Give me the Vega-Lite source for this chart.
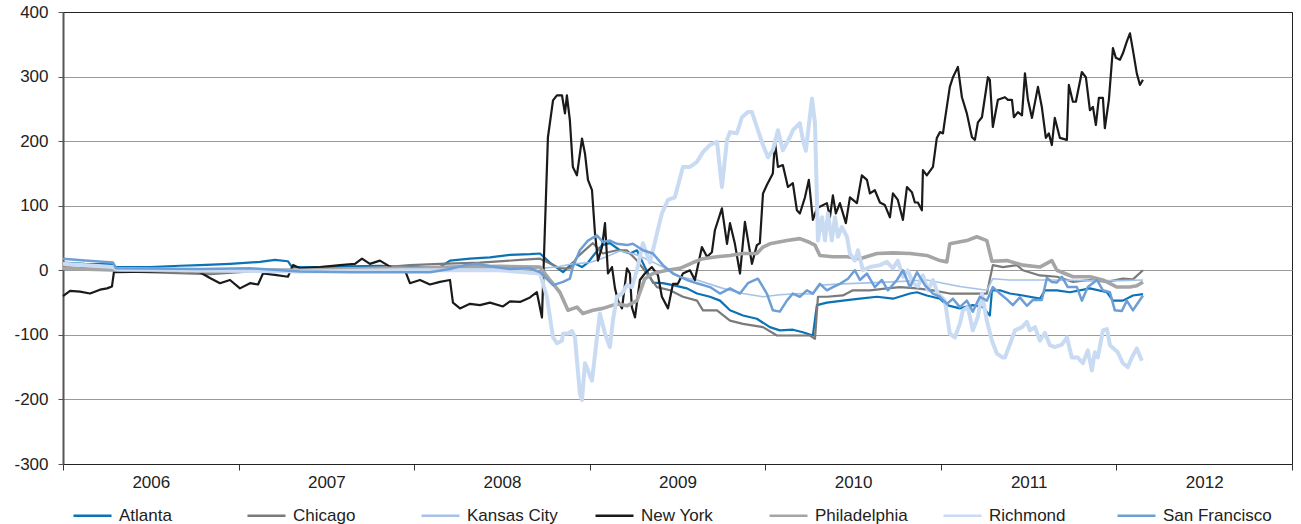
{
"$schema":"https://vega.github.io/schema/vega-lite/v6.json",
"width":1229,"height":452,
"autosize":{"type":"none"},
"padding":{"left":63,"top":12,"right":9,"bottom":60},
"background":"white",
"config":{"font":"Liberation Sans","view":{"stroke":"#222","strokeWidth":1},
"legend":{"orient":"none","legendX":9,"legendY":483,"direction":"horizontal","columns":7,"gridAlign":"all","columnPadding":14,"symbolType":"stroke","symbolSize":1444,"symbolStrokeWidth":2.6,"labelFontSize":17,"labelColor":"#222","labelOffset":6,"title":null,"padding":0}},
"data":{"values":[
{"s":"Atlanta","t":2006.000,"v":12},{"s":"Atlanta","t":2006.125,"v":10},{"s":"Atlanta","t":2006.285,"v":9},{"s":"Atlanta","t":2006.302,"v":5},{"s":"Atlanta","t":2006.495,"v":5},{"s":"Atlanta","t":2006.666,"v":7},{"s":"Atlanta","t":2006.780,"v":8},{"s":"Atlanta","t":2006.951,"v":10},{"s":"Atlanta","t":2007.122,"v":13},{"s":"Atlanta","t":2007.207,"v":16},{"s":"Atlanta","t":2007.281,"v":14},{"s":"Atlanta","t":2007.304,"v":5},{"s":"Atlanta","t":2007.464,"v":5},{"s":"Atlanta","t":2007.634,"v":6},{"s":"Atlanta","t":2007.805,"v":7},{"s":"Atlanta","t":2007.976,"v":5},{"s":"Atlanta","t":2008.147,"v":5},{"s":"Atlanta","t":2008.204,"v":15},{"s":"Atlanta","t":2008.318,"v":18},{"s":"Atlanta","t":2008.432,"v":20},{"s":"Atlanta","t":2008.546,"v":24},{"s":"Atlanta","t":2008.660,"v":25},{"s":"Atlanta","t":2008.717,"v":26},{"s":"Atlanta","t":2008.773,"v":12},{"s":"Atlanta","t":2008.848,"v":-3},{"s":"Atlanta","t":2008.904,"v":12},{"s":"Atlanta","t":2008.956,"v":5},{"s":"Atlanta","t":2008.990,"v":12},{"s":"Atlanta","t":2009.030,"v":26},{"s":"Atlanta","t":2009.070,"v":39},{"s":"Atlanta","t":2009.115,"v":42},{"s":"Atlanta","t":2009.172,"v":31},{"s":"Atlanta","t":2009.229,"v":26},{"s":"Atlanta","t":2009.269,"v":31},{"s":"Atlanta","t":2009.314,"v":5},{"s":"Atlanta","t":2009.360,"v":-19},{"s":"Atlanta","t":2009.417,"v":-20},{"s":"Atlanta","t":2009.474,"v":-23},{"s":"Atlanta","t":2009.554,"v":-28},{"s":"Atlanta","t":2009.611,"v":-36},{"s":"Atlanta","t":2009.685,"v":-41},{"s":"Atlanta","t":2009.742,"v":-47},{"s":"Atlanta","t":2009.799,"v":-62},{"s":"Atlanta","t":2009.873,"v":-70},{"s":"Atlanta","t":2009.952,"v":-75},{"s":"Atlanta","t":2010.026,"v":-88},{"s":"Atlanta","t":2010.083,"v":-93},{"s":"Atlanta","t":2010.157,"v":-92},{"s":"Atlanta","t":2010.214,"v":-96},{"s":"Atlanta","t":2010.271,"v":-101},{"s":"Atlanta","t":2010.294,"v":-54},{"s":"Atlanta","t":2010.351,"v":-50},{"s":"Atlanta","t":2010.442,"v":-47},{"s":"Atlanta","t":2010.539,"v":-44},{"s":"Atlanta","t":2010.636,"v":-41},{"s":"Atlanta","t":2010.727,"v":-44},{"s":"Atlanta","t":2010.824,"v":-36},{"s":"Atlanta","t":2010.864,"v":-34},{"s":"Atlanta","t":2010.920,"v":-39},{"s":"Atlanta","t":2010.995,"v":-44},{"s":"Atlanta","t":2011.034,"v":-54},{"s":"Atlanta","t":2011.108,"v":-59},{"s":"Atlanta","t":2011.182,"v":-54},{"s":"Atlanta","t":2011.239,"v":-57},{"s":"Atlanta","t":2011.279,"v":-70},{"s":"Atlanta","t":2011.291,"v":-31},{"s":"Atlanta","t":2011.336,"v":-31},{"s":"Atlanta","t":2011.393,"v":-36},{"s":"Atlanta","t":2011.467,"v":-39},{"s":"Atlanta","t":2011.564,"v":-44},{"s":"Atlanta","t":2011.593,"v":-31},{"s":"Atlanta","t":2011.661,"v":-31},{"s":"Atlanta","t":2011.735,"v":-34},{"s":"Atlanta","t":2011.849,"v":-28},{"s":"Atlanta","t":2011.946,"v":-34},{"s":"Atlanta","t":2011.980,"v":-47},{"s":"Atlanta","t":2012.037,"v":-47},{"s":"Atlanta","t":2012.094,"v":-39},{"s":"Atlanta","t":2012.151,"v":-37},
{"s":"Chicago","t":2006.000,"v":5},{"s":"Chicago","t":2006.211,"v":2},{"s":"Chicago","t":2006.382,"v":-2},{"s":"Chicago","t":2006.609,"v":-4},{"s":"Chicago","t":2006.837,"v":-6},{"s":"Chicago","t":2007.008,"v":-3},{"s":"Chicago","t":2007.179,"v":0},{"s":"Chicago","t":2007.350,"v":0},{"s":"Chicago","t":2007.578,"v":2},{"s":"Chicago","t":2007.805,"v":4},{"s":"Chicago","t":2007.976,"v":8},{"s":"Chicago","t":2008.147,"v":10},{"s":"Chicago","t":2008.375,"v":12},{"s":"Chicago","t":2008.603,"v":16},{"s":"Chicago","t":2008.717,"v":18},{"s":"Chicago","t":2008.762,"v":12},{"s":"Chicago","t":2008.830,"v":3},{"s":"Chicago","t":2008.887,"v":3},{"s":"Chicago","t":2008.927,"v":20},{"s":"Chicago","t":2008.984,"v":34},{"s":"Chicago","t":2009.018,"v":42},{"s":"Chicago","t":2009.075,"v":26},{"s":"Chicago","t":2009.155,"v":31},{"s":"Chicago","t":2009.212,"v":31},{"s":"Chicago","t":2009.269,"v":15},{"s":"Chicago","t":2009.326,"v":-5},{"s":"Chicago","t":2009.383,"v":-26},{"s":"Chicago","t":2009.457,"v":-31},{"s":"Chicago","t":2009.531,"v":-41},{"s":"Chicago","t":2009.611,"v":-47},{"s":"Chicago","t":2009.645,"v":-62},{"s":"Chicago","t":2009.725,"v":-62},{"s":"Chicago","t":2009.799,"v":-78},{"s":"Chicago","t":2009.873,"v":-83},{"s":"Chicago","t":2009.987,"v":-88},{"s":"Chicago","t":2010.066,"v":-101},{"s":"Chicago","t":2010.157,"v":-101},{"s":"Chicago","t":2010.254,"v":-101},{"s":"Chicago","t":2010.283,"v":-106},{"s":"Chicago","t":2010.300,"v":-41},{"s":"Chicago","t":2010.351,"v":-41},{"s":"Chicago","t":2010.442,"v":-39},{"s":"Chicago","t":2010.499,"v":-31},{"s":"Chicago","t":2010.596,"v":-31},{"s":"Chicago","t":2010.693,"v":-28},{"s":"Chicago","t":2010.767,"v":-26},{"s":"Chicago","t":2010.864,"v":-28},{"s":"Chicago","t":2010.955,"v":-31},{"s":"Chicago","t":2011.051,"v":-36},{"s":"Chicago","t":2011.148,"v":-36},{"s":"Chicago","t":2011.262,"v":-36},{"s":"Chicago","t":2011.296,"v":8},{"s":"Chicago","t":2011.353,"v":5},{"s":"Chicago","t":2011.433,"v":8},{"s":"Chicago","t":2011.467,"v":0},{"s":"Chicago","t":2011.564,"v":-8},{"s":"Chicago","t":2011.661,"v":-10},{"s":"Chicago","t":2011.752,"v":-18},{"s":"Chicago","t":2011.849,"v":-15},{"s":"Chicago","t":2011.946,"v":-18},{"s":"Chicago","t":2012.037,"v":-13},{"s":"Chicago","t":2012.094,"v":-14},{"s":"Chicago","t":2012.151,"v":0},
{"s":"Kansas City","t":2006.000,"v":10},{"s":"Kansas City","t":2006.285,"v":6},{"s":"Kansas City","t":2006.302,"v":3},{"s":"Kansas City","t":2006.609,"v":2},{"s":"Kansas City","t":2006.951,"v":2},{"s":"Kansas City","t":2007.293,"v":2},{"s":"Kansas City","t":2007.521,"v":0},{"s":"Kansas City","t":2007.805,"v":-2},{"s":"Kansas City","t":2008.090,"v":0},{"s":"Kansas City","t":2008.375,"v":2},{"s":"Kansas City","t":2008.717,"v":3},{"s":"Kansas City","t":2008.813,"v":5},{"s":"Kansas City","t":2008.904,"v":10},{"s":"Kansas City","t":2009.001,"v":12},{"s":"Kansas City","t":2009.087,"v":20},{"s":"Kansas City","t":2009.172,"v":30},{"s":"Kansas City","t":2009.258,"v":25},{"s":"Kansas City","t":2009.343,"v":15},{"s":"Kansas City","t":2009.417,"v":5},{"s":"Kansas City","t":2009.514,"v":-10},{"s":"Kansas City","t":2009.611,"v":-15},{"s":"Kansas City","t":2009.759,"v":-28},{"s":"Kansas City","t":2009.873,"v":-36},{"s":"Kansas City","t":2009.987,"v":-41},{"s":"Kansas City","t":2010.083,"v":-38},{"s":"Kansas City","t":2010.197,"v":-36},{"s":"Kansas City","t":2010.271,"v":-37},{"s":"Kansas City","t":2010.311,"v":-23},{"s":"Kansas City","t":2010.442,"v":-21},{"s":"Kansas City","t":2010.727,"v":-18},{"s":"Kansas City","t":2010.920,"v":-15},{"s":"Kansas City","t":2011.108,"v":-25},{"s":"Kansas City","t":2011.262,"v":-31},{"s":"Kansas City","t":2011.296,"v":-13},{"s":"Kansas City","t":2011.393,"v":-15},{"s":"Kansas City","t":2011.621,"v":-15},{"s":"Kansas City","t":2011.849,"v":-16},{"s":"Kansas City","t":2012.020,"v":-16},{"s":"Kansas City","t":2012.151,"v":-15},
{"s":"New York","t":2006.000,"v":-40},{"s":"New York","t":2006.040,"v":-32},{"s":"New York","t":2006.097,"v":-33},{"s":"New York","t":2006.154,"v":-36},{"s":"New York","t":2006.211,"v":-30},{"s":"New York","t":2006.251,"v":-28},{"s":"New York","t":2006.279,"v":-25},{"s":"New York","t":2006.290,"v":-3},{"s":"New York","t":2006.495,"v":-2},{"s":"New York","t":2006.666,"v":0},{"s":"New York","t":2006.780,"v":-3},{"s":"New York","t":2006.837,"v":-12},{"s":"New York","t":2006.894,"v":-20},{"s":"New York","t":2006.951,"v":-15},{"s":"New York","t":2007.008,"v":-28},{"s":"New York","t":2007.065,"v":-20},{"s":"New York","t":2007.111,"v":-22},{"s":"New York","t":2007.139,"v":-5},{"s":"New York","t":2007.207,"v":-7},{"s":"New York","t":2007.281,"v":-10},{"s":"New York","t":2007.310,"v":8},{"s":"New York","t":2007.350,"v":3},{"s":"New York","t":2007.464,"v":5},{"s":"New York","t":2007.578,"v":8},{"s":"New York","t":2007.663,"v":10},{"s":"New York","t":2007.703,"v":18},{"s":"New York","t":2007.748,"v":10},{"s":"New York","t":2007.805,"v":15},{"s":"New York","t":2007.879,"v":3},{"s":"New York","t":2007.948,"v":0},{"s":"New York","t":2007.976,"v":-20},{"s":"New York","t":2008.033,"v":-15},{"s":"New York","t":2008.090,"v":-22},{"s":"New York","t":2008.147,"v":-18},{"s":"New York","t":2008.204,"v":-15},{"s":"New York","t":2008.221,"v":-50},{"s":"New York","t":2008.261,"v":-59},{"s":"New York","t":2008.318,"v":-52},{"s":"New York","t":2008.375,"v":-54},{"s":"New York","t":2008.432,"v":-50},{"s":"New York","t":2008.506,"v":-56},{"s":"New York","t":2008.546,"v":-48},{"s":"New York","t":2008.603,"v":-49},{"s":"New York","t":2008.660,"v":-42},{"s":"New York","t":2008.699,"v":-34},{"s":"New York","t":2008.728,"v":-73},{"s":"New York","t":2008.762,"v":206},{"s":"New York","t":2008.791,"v":263},{"s":"New York","t":2008.813,"v":271},{"s":"New York","t":2008.842,"v":271},{"s":"New York","t":2008.859,"v":243},{"s":"New York","t":2008.870,"v":271},{"s":"New York","t":2008.887,"v":232},{"s":"New York","t":2008.904,"v":160},{"s":"New York","t":2008.927,"v":147},{"s":"New York","t":2008.956,"v":204},{"s":"New York","t":2008.973,"v":181},{"s":"New York","t":2008.990,"v":140},{"s":"New York","t":2009.013,"v":124},{"s":"New York","t":2009.030,"v":57},{"s":"New York","t":2009.047,"v":15},{"s":"New York","t":2009.070,"v":36},{"s":"New York","t":2009.087,"v":73},{"s":"New York","t":2009.104,"v":-5},{"s":"New York","t":2009.127,"v":5},{"s":"New York","t":2009.144,"v":-28},{"s":"New York","t":2009.161,"v":-47},{"s":"New York","t":2009.184,"v":-59},{"s":"New York","t":2009.212,"v":3},{"s":"New York","t":2009.229,"v":-5},{"s":"New York","t":2009.240,"v":-57},{"s":"New York","t":2009.258,"v":-73},{"s":"New York","t":2009.286,"v":-15},{"s":"New York","t":2009.314,"v":-5},{"s":"New York","t":2009.354,"v":5},{"s":"New York","t":2009.389,"v":-8},{"s":"New York","t":2009.411,"v":-41},{"s":"New York","t":2009.446,"v":-59},{"s":"New York","t":2009.474,"v":-21},{"s":"New York","t":2009.502,"v":-21},{"s":"New York","t":2009.531,"v":-5},{"s":"New York","t":2009.571,"v":0},{"s":"New York","t":2009.599,"v":-15},{"s":"New York","t":2009.639,"v":36},{"s":"New York","t":2009.668,"v":21},{"s":"New York","t":2009.696,"v":28},{"s":"New York","t":2009.713,"v":62},{"s":"New York","t":2009.753,"v":96},{"s":"New York","t":2009.782,"v":41},{"s":"New York","t":2009.799,"v":73},{"s":"New York","t":2009.827,"v":41},{"s":"New York","t":2009.856,"v":-5},{"s":"New York","t":2009.884,"v":75},{"s":"New York","t":2009.924,"v":10},{"s":"New York","t":2009.952,"v":39},{"s":"New York","t":2009.969,"v":42},{"s":"New York","t":2009.987,"v":119},{"s":"New York","t":2010.009,"v":132},{"s":"New York","t":2010.043,"v":150},{"s":"New York","t":2010.055,"v":199},{"s":"New York","t":2010.072,"v":160},{"s":"New York","t":2010.100,"v":163},{"s":"New York","t":2010.129,"v":129},{"s":"New York","t":2010.157,"v":135},{"s":"New York","t":2010.180,"v":93},{"s":"New York","t":2010.197,"v":88},{"s":"New York","t":2010.226,"v":113},{"s":"New York","t":2010.248,"v":140},{"s":"New York","t":2010.271,"v":78},{"s":"New York","t":2010.294,"v":96},{"s":"New York","t":2010.351,"v":104},{"s":"New York","t":2010.368,"v":82},{"s":"New York","t":2010.385,"v":116},{"s":"New York","t":2010.402,"v":88},{"s":"New York","t":2010.425,"v":104},{"s":"New York","t":2010.459,"v":73},{"s":"New York","t":2010.482,"v":113},{"s":"New York","t":2010.522,"v":104},{"s":"New York","t":2010.550,"v":147},{"s":"New York","t":2010.579,"v":140},{"s":"New York","t":2010.596,"v":119},{"s":"New York","t":2010.624,"v":124},{"s":"New York","t":2010.653,"v":105},{"s":"New York","t":2010.681,"v":101},{"s":"New York","t":2010.710,"v":82},{"s":"New York","t":2010.727,"v":119},{"s":"New York","t":2010.755,"v":109},{"s":"New York","t":2010.784,"v":78},{"s":"New York","t":2010.807,"v":129},{"s":"New York","t":2010.835,"v":121},{"s":"New York","t":2010.852,"v":105},{"s":"New York","t":2010.869,"v":105},{"s":"New York","t":2010.892,"v":93},{"s":"New York","t":2010.898,"v":155},{"s":"New York","t":2010.920,"v":147},{"s":"New York","t":2010.955,"v":160},{"s":"New York","t":2010.977,"v":205},{"s":"New York","t":2010.995,"v":214},{"s":"New York","t":2011.012,"v":212},{"s":"New York","t":2011.023,"v":233},{"s":"New York","t":2011.051,"v":284},{"s":"New York","t":2011.069,"v":299},{"s":"New York","t":2011.097,"v":315},{"s":"New York","t":2011.120,"v":268},{"s":"New York","t":2011.148,"v":243},{"s":"New York","t":2011.177,"v":206},{"s":"New York","t":2011.194,"v":202},{"s":"New York","t":2011.211,"v":229},{"s":"New York","t":2011.234,"v":237},{"s":"New York","t":2011.268,"v":299},{"s":"New York","t":2011.279,"v":295},{"s":"New York","t":2011.296,"v":222},{"s":"New York","t":2011.325,"v":264},{"s":"New York","t":2011.365,"v":268},{"s":"New York","t":2011.382,"v":264},{"s":"New York","t":2011.405,"v":264},{"s":"New York","t":2011.416,"v":237},{"s":"New York","t":2011.439,"v":245},{"s":"New York","t":2011.462,"v":240},{"s":"New York","t":2011.479,"v":305},{"s":"New York","t":2011.496,"v":264},{"s":"New York","t":2011.519,"v":236},{"s":"New York","t":2011.553,"v":284},{"s":"New York","t":2011.575,"v":253},{"s":"New York","t":2011.598,"v":205},{"s":"New York","t":2011.615,"v":212},{"s":"New York","t":2011.632,"v":194},{"s":"New York","t":2011.649,"v":236},{"s":"New York","t":2011.678,"v":205},{"s":"New York","t":2011.718,"v":202},{"s":"New York","t":2011.729,"v":287},{"s":"New York","t":2011.752,"v":261},{"s":"New York","t":2011.769,"v":261},{"s":"New York","t":2011.803,"v":307},{"s":"New York","t":2011.826,"v":299},{"s":"New York","t":2011.849,"v":248},{"s":"New York","t":2011.866,"v":253},{"s":"New York","t":2011.883,"v":225},{"s":"New York","t":2011.900,"v":267},{"s":"New York","t":2011.923,"v":267},{"s":"New York","t":2011.934,"v":220},{"s":"New York","t":2011.957,"v":264},{"s":"New York","t":2011.980,"v":344},{"s":"New York","t":2011.997,"v":329},{"s":"New York","t":2012.020,"v":326},{"s":"New York","t":2012.037,"v":336},{"s":"New York","t":2012.059,"v":354},{"s":"New York","t":2012.077,"v":367},{"s":"New York","t":2012.094,"v":341},{"s":"New York","t":2012.116,"v":305},{"s":"New York","t":2012.134,"v":287},{"s":"New York","t":2012.151,"v":295},
{"s":"Philadelphia","t":2006.000,"v":3},{"s":"Philadelphia","t":2006.325,"v":0},{"s":"Philadelphia","t":2006.609,"v":0},{"s":"Philadelphia","t":2006.837,"v":-2},{"s":"Philadelphia","t":2007.122,"v":0},{"s":"Philadelphia","t":2007.350,"v":0},{"s":"Philadelphia","t":2007.578,"v":2},{"s":"Philadelphia","t":2007.805,"v":3},{"s":"Philadelphia","t":2007.976,"v":3},{"s":"Philadelphia","t":2008.204,"v":5},{"s":"Philadelphia","t":2008.489,"v":6},{"s":"Philadelphia","t":2008.717,"v":5},{"s":"Philadelphia","t":2008.773,"v":-15},{"s":"Philadelphia","t":2008.830,"v":-34},{"s":"Philadelphia","t":2008.876,"v":-62},{"s":"Philadelphia","t":2008.927,"v":-57},{"s":"Philadelphia","t":2008.961,"v":-67},{"s":"Philadelphia","t":2009.018,"v":-62},{"s":"Philadelphia","t":2009.075,"v":-59},{"s":"Philadelphia","t":2009.155,"v":-52},{"s":"Philadelphia","t":2009.212,"v":-55},{"s":"Philadelphia","t":2009.269,"v":-47},{"s":"Philadelphia","t":2009.314,"v":-13},{"s":"Philadelphia","t":2009.360,"v":-5},{"s":"Philadelphia","t":2009.440,"v":0},{"s":"Philadelphia","t":2009.514,"v":3},{"s":"Philadelphia","t":2009.588,"v":12},{"s":"Philadelphia","t":2009.645,"v":18},{"s":"Philadelphia","t":2009.725,"v":21},{"s":"Philadelphia","t":2009.799,"v":23},{"s":"Philadelphia","t":2009.873,"v":26},{"s":"Philadelphia","t":2009.952,"v":26},{"s":"Philadelphia","t":2009.987,"v":36},{"s":"Philadelphia","t":2010.026,"v":41},{"s":"Philadelphia","t":2010.123,"v":46},{"s":"Philadelphia","t":2010.197,"v":49},{"s":"Philadelphia","t":2010.254,"v":43},{"s":"Philadelphia","t":2010.283,"v":39},{"s":"Philadelphia","t":2010.311,"v":23},{"s":"Philadelphia","t":2010.385,"v":21},{"s":"Philadelphia","t":2010.465,"v":21},{"s":"Philadelphia","t":2010.539,"v":18},{"s":"Philadelphia","t":2010.636,"v":26},{"s":"Philadelphia","t":2010.727,"v":27},{"s":"Philadelphia","t":2010.824,"v":26},{"s":"Philadelphia","t":2010.920,"v":23},{"s":"Philadelphia","t":2010.995,"v":15},{"s":"Philadelphia","t":2011.034,"v":13},{"s":"Philadelphia","t":2011.051,"v":41},{"s":"Philadelphia","t":2011.148,"v":46},{"s":"Philadelphia","t":2011.205,"v":52},{"s":"Philadelphia","t":2011.262,"v":46},{"s":"Philadelphia","t":2011.291,"v":14},{"s":"Philadelphia","t":2011.376,"v":15},{"s":"Philadelphia","t":2011.467,"v":8},{"s":"Philadelphia","t":2011.564,"v":5},{"s":"Philadelphia","t":2011.632,"v":15},{"s":"Philadelphia","t":2011.661,"v":0},{"s":"Philadelphia","t":2011.752,"v":-10},{"s":"Philadelphia","t":2011.849,"v":-10},{"s":"Philadelphia","t":2011.923,"v":-15},{"s":"Philadelphia","t":2012.003,"v":-26},{"s":"Philadelphia","t":2012.077,"v":-26},{"s":"Philadelphia","t":2012.116,"v":-24},{"s":"Philadelphia","t":2012.151,"v":-18},
{"s":"Richmond","t":2006.000,"v":10},{"s":"Richmond","t":2006.285,"v":5},{"s":"Richmond","t":2006.302,"v":2},{"s":"Richmond","t":2006.780,"v":0},{"s":"Richmond","t":2007.350,"v":-2},{"s":"Richmond","t":2007.919,"v":0},{"s":"Richmond","t":2008.489,"v":0},{"s":"Richmond","t":2008.717,"v":-5},{"s":"Richmond","t":2008.756,"v":-41},{"s":"Richmond","t":2008.791,"v":-104},{"s":"Richmond","t":2008.813,"v":-113},{"s":"Richmond","t":2008.842,"v":-109},{"s":"Richmond","t":2008.848,"v":-98},{"s":"Richmond","t":2008.876,"v":-98},{"s":"Richmond","t":2008.899,"v":-94},{"s":"Richmond","t":2008.916,"v":-104},{"s":"Richmond","t":2008.944,"v":-191},{"s":"Richmond","t":2008.956,"v":-201},{"s":"Richmond","t":2008.973,"v":-144},{"s":"Richmond","t":2008.990,"v":-155},{"s":"Richmond","t":2009.013,"v":-171},{"s":"Richmond","t":2009.041,"v":-105},{"s":"Richmond","t":2009.058,"v":-67},{"s":"Richmond","t":2009.087,"v":-98},{"s":"Richmond","t":2009.115,"v":-119},{"s":"Richmond","t":2009.132,"v":-78},{"s":"Richmond","t":2009.155,"v":-41},{"s":"Richmond","t":2009.184,"v":-36},{"s":"Richmond","t":2009.212,"v":-23},{"s":"Richmond","t":2009.240,"v":-26},{"s":"Richmond","t":2009.269,"v":0},{"s":"Richmond","t":2009.303,"v":42},{"s":"Richmond","t":2009.343,"v":12},{"s":"Richmond","t":2009.383,"v":57},{"s":"Richmond","t":2009.411,"v":88},{"s":"Richmond","t":2009.446,"v":109},{"s":"Richmond","t":2009.485,"v":113},{"s":"Richmond","t":2009.531,"v":160},{"s":"Richmond","t":2009.571,"v":160},{"s":"Richmond","t":2009.611,"v":168},{"s":"Richmond","t":2009.645,"v":183},{"s":"Richmond","t":2009.685,"v":194},{"s":"Richmond","t":2009.725,"v":199},{"s":"Richmond","t":2009.753,"v":129},{"s":"Richmond","t":2009.782,"v":202},{"s":"Richmond","t":2009.799,"v":214},{"s":"Richmond","t":2009.838,"v":212},{"s":"Richmond","t":2009.867,"v":237},{"s":"Richmond","t":2009.901,"v":245},{"s":"Richmond","t":2009.924,"v":245},{"s":"Richmond","t":2009.952,"v":222},{"s":"Richmond","t":2009.987,"v":194},{"s":"Richmond","t":2010.015,"v":175},{"s":"Richmond","t":2010.043,"v":186},{"s":"Richmond","t":2010.072,"v":217},{"s":"Richmond","t":2010.100,"v":186},{"s":"Richmond","t":2010.140,"v":206},{"s":"Richmond","t":2010.157,"v":217},{"s":"Richmond","t":2010.197,"v":228},{"s":"Richmond","t":2010.214,"v":202},{"s":"Richmond","t":2010.231,"v":185},{"s":"Richmond","t":2010.266,"v":266},{"s":"Richmond","t":2010.283,"v":228},{"s":"Richmond","t":2010.300,"v":46},{"s":"Richmond","t":2010.323,"v":82},{"s":"Richmond","t":2010.340,"v":46},{"s":"Richmond","t":2010.357,"v":88},{"s":"Richmond","t":2010.379,"v":46},{"s":"Richmond","t":2010.397,"v":82},{"s":"Richmond","t":2010.414,"v":52},{"s":"Richmond","t":2010.436,"v":67},{"s":"Richmond","t":2010.465,"v":52},{"s":"Richmond","t":2010.482,"v":26},{"s":"Richmond","t":2010.510,"v":15},{"s":"Richmond","t":2010.528,"v":31},{"s":"Richmond","t":2010.556,"v":0},{"s":"Richmond","t":2010.596,"v":5},{"s":"Richmond","t":2010.653,"v":8},{"s":"Richmond","t":2010.693,"v":13},{"s":"Richmond","t":2010.727,"v":3},{"s":"Richmond","t":2010.755,"v":15},{"s":"Richmond","t":2010.784,"v":-10},{"s":"Richmond","t":2010.812,"v":0},{"s":"Richmond","t":2010.841,"v":-20},{"s":"Richmond","t":2010.869,"v":-25},{"s":"Richmond","t":2010.898,"v":-8},{"s":"Richmond","t":2010.926,"v":-31},{"s":"Richmond","t":2010.955,"v":-15},{"s":"Richmond","t":2010.983,"v":-36},{"s":"Richmond","t":2011.023,"v":-47},{"s":"Richmond","t":2011.051,"v":-98},{"s":"Richmond","t":2011.080,"v":-104},{"s":"Richmond","t":2011.108,"v":-83},{"s":"Richmond","t":2011.126,"v":-62},{"s":"Richmond","t":2011.154,"v":-57},{"s":"Richmond","t":2011.182,"v":-93},{"s":"Richmond","t":2011.211,"v":-72},{"s":"Richmond","t":2011.234,"v":-36},{"s":"Richmond","t":2011.262,"v":-78},{"s":"Richmond","t":2011.291,"v":-109},{"s":"Richmond","t":2011.319,"v":-129},{"s":"Richmond","t":2011.353,"v":-135},{"s":"Richmond","t":2011.365,"v":-135},{"s":"Richmond","t":2011.393,"v":-115},{"s":"Richmond","t":2011.422,"v":-93},{"s":"Richmond","t":2011.462,"v":-88},{"s":"Richmond","t":2011.490,"v":-80},{"s":"Richmond","t":2011.507,"v":-93},{"s":"Richmond","t":2011.536,"v":-88},{"s":"Richmond","t":2011.564,"v":-109},{"s":"Richmond","t":2011.593,"v":-97},{"s":"Richmond","t":2011.621,"v":-116},{"s":"Richmond","t":2011.649,"v":-119},{"s":"Richmond","t":2011.689,"v":-115},{"s":"Richmond","t":2011.718,"v":-104},{"s":"Richmond","t":2011.746,"v":-135},{"s":"Richmond","t":2011.780,"v":-135},{"s":"Richmond","t":2011.809,"v":-144},{"s":"Richmond","t":2011.837,"v":-124},{"s":"Richmond","t":2011.860,"v":-155},{"s":"Richmond","t":2011.877,"v":-127},{"s":"Richmond","t":2011.894,"v":-135},{"s":"Richmond","t":2011.923,"v":-93},{"s":"Richmond","t":2011.946,"v":-91},{"s":"Richmond","t":2011.963,"v":-116},{"s":"Richmond","t":2012.008,"v":-127},{"s":"Richmond","t":2012.037,"v":-144},{"s":"Richmond","t":2012.065,"v":-150},{"s":"Richmond","t":2012.088,"v":-135},{"s":"Richmond","t":2012.116,"v":-121},{"s":"Richmond","t":2012.145,"v":-140},
{"s":"San Francisco","t":2006.000,"v":18},{"s":"San Francisco","t":2006.125,"v":15},{"s":"San Francisco","t":2006.285,"v":12},{"s":"San Francisco","t":2006.302,"v":3},{"s":"San Francisco","t":2006.780,"v":2},{"s":"San Francisco","t":2007.065,"v":3},{"s":"San Francisco","t":2007.350,"v":-2},{"s":"San Francisco","t":2007.634,"v":-3},{"s":"San Francisco","t":2007.919,"v":-3},{"s":"San Francisco","t":2008.090,"v":-3},{"s":"San Francisco","t":2008.204,"v":2},{"s":"San Francisco","t":2008.289,"v":8},{"s":"San Francisco","t":2008.358,"v":10},{"s":"San Francisco","t":2008.460,"v":5},{"s":"San Francisco","t":2008.546,"v":2},{"s":"San Francisco","t":2008.660,"v":3},{"s":"San Francisco","t":2008.717,"v":-3},{"s":"San Francisco","t":2008.791,"v":-23},{"s":"San Francisco","t":2008.848,"v":-18},{"s":"San Francisco","t":2008.887,"v":-13},{"s":"San Francisco","t":2008.904,"v":5},{"s":"San Francisco","t":2008.944,"v":31},{"s":"San Francisco","t":2008.990,"v":46},{"s":"San Francisco","t":2009.041,"v":54},{"s":"San Francisco","t":2009.075,"v":44},{"s":"San Francisco","t":2009.115,"v":46},{"s":"San Francisco","t":2009.155,"v":41},{"s":"San Francisco","t":2009.212,"v":39},{"s":"San Francisco","t":2009.246,"v":41},{"s":"San Francisco","t":2009.303,"v":31},{"s":"San Francisco","t":2009.360,"v":26},{"s":"San Francisco","t":2009.417,"v":8},{"s":"San Francisco","t":2009.474,"v":-5},{"s":"San Francisco","t":2009.554,"v":-15},{"s":"San Francisco","t":2009.611,"v":-20},{"s":"San Francisco","t":2009.685,"v":-26},{"s":"San Francisco","t":2009.742,"v":-36},{"s":"San Francisco","t":2009.799,"v":-28},{"s":"San Francisco","t":2009.856,"v":-36},{"s":"San Francisco","t":2009.901,"v":-20},{"s":"San Francisco","t":2009.958,"v":-13},{"s":"San Francisco","t":2010.009,"v":-36},{"s":"San Francisco","t":2010.043,"v":-62},{"s":"San Francisco","t":2010.083,"v":-64},{"s":"San Francisco","t":2010.123,"v":-47},{"s":"San Francisco","t":2010.157,"v":-36},{"s":"San Francisco","t":2010.197,"v":-41},{"s":"San Francisco","t":2010.237,"v":-31},{"s":"San Francisco","t":2010.271,"v":-36},{"s":"San Francisco","t":2010.311,"v":-21},{"s":"San Francisco","t":2010.351,"v":-31},{"s":"San Francisco","t":2010.385,"v":-26},{"s":"San Francisco","t":2010.425,"v":-21},{"s":"San Francisco","t":2010.471,"v":-13},{"s":"San Francisco","t":2010.510,"v":0},{"s":"San Francisco","t":2010.539,"v":-15},{"s":"San Francisco","t":2010.579,"v":-5},{"s":"San Francisco","t":2010.624,"v":-26},{"s":"San Francisco","t":2010.664,"v":-15},{"s":"San Francisco","t":2010.698,"v":-31},{"s":"San Francisco","t":2010.750,"v":-15},{"s":"San Francisco","t":2010.784,"v":0},{"s":"San Francisco","t":2010.824,"v":-26},{"s":"San Francisco","t":2010.864,"v":-3},{"s":"San Francisco","t":2010.909,"v":-23},{"s":"San Francisco","t":2010.955,"v":-36},{"s":"San Francisco","t":2010.995,"v":-41},{"s":"San Francisco","t":2011.034,"v":-52},{"s":"San Francisco","t":2011.069,"v":-44},{"s":"San Francisco","t":2011.108,"v":-57},{"s":"San Francisco","t":2011.148,"v":-47},{"s":"San Francisco","t":2011.182,"v":-64},{"s":"San Francisco","t":2011.222,"v":-41},{"s":"San Francisco","t":2011.262,"v":-47},{"s":"San Francisco","t":2011.296,"v":-26},{"s":"San Francisco","t":2011.336,"v":-36},{"s":"San Francisco","t":2011.376,"v":-45},{"s":"San Francisco","t":2011.410,"v":-54},{"s":"San Francisco","t":2011.450,"v":-42},{"s":"San Francisco","t":2011.490,"v":-55},{"s":"San Francisco","t":2011.524,"v":-46},{"s":"San Francisco","t":2011.575,"v":-46},{"s":"San Francisco","t":2011.604,"v":-12},{"s":"San Francisco","t":2011.632,"v":-18},{"s":"San Francisco","t":2011.661,"v":-19},{"s":"San Francisco","t":2011.689,"v":-10},{"s":"San Francisco","t":2011.723,"v":-26},{"s":"San Francisco","t":2011.775,"v":-26},{"s":"San Francisco","t":2011.803,"v":-47},{"s":"San Francisco","t":2011.837,"v":-26},{"s":"San Francisco","t":2011.889,"v":-15},{"s":"San Francisco","t":2011.923,"v":-31},{"s":"San Francisco","t":2011.963,"v":-34},{"s":"San Francisco","t":2011.991,"v":-62},{"s":"San Francisco","t":2012.031,"v":-63},{"s":"San Francisco","t":2012.059,"v":-47},{"s":"San Francisco","t":2012.094,"v":-62},{"s":"San Francisco","t":2012.151,"v":-39}
]},
"encoding":{
"x":{"field":"t","type":"quantitative","scale":{"domain":[2006,2013],"nice":false,"zero":false},
"axis":{"title":null,"values":[2006,2007,2008,2009,2010,2011,2012,2013],"grid":false,"labelExpr":"datum.value < 2013 ? format(datum.value,'d') : ''","labelOffset":87.8,"labelFlush":false,"labelOverlap":false,"labelBound":false,"labelFontSize":17,"labelColor":"#222","labelPadding":4,"tickSize":6,"tickColor":"#333","domainColor":"#222","domainWidth":1.2}},
"y":{"field":"v","type":"quantitative","scale":{"domain":[-300,400],"nice":false,"zero":false},
"axis":{"title":null,"values":[-300,-200,-100,0,100,200,300,400],"grid":true,"gridColor":{"condition":{"test":"datum.value === 400","value":"#222"},"value":"#999"},"gridWidth":1,"labelExpr":"datum.value < 0 ? '-' + abs(datum.value) : '' + datum.value","labelFontSize":17,"labelColor":"#222","labelPadding":10,"tickSize":5,"tickColor":"#555","domainColor":"#555","domainWidth":2}},
"color":{"field":"s","type":"nominal","scale":{"domain":["Atlanta","Chicago","Kansas City","New York","Philadelphia","Richmond","San Francisco"],"range":["#0a72b5","#7a7a7a","#a4c2e8","#1a1a1a","#a5a5a5","#c9dbf3","#6d9ed6"]}}
},
"layer":[
{"transform":[{"filter":{"field":"s","equal":"Atlanta"}}],"mark":{"type":"line","strokeJoin":"round","strokeWidth":2.2}},
{"transform":[{"filter":{"field":"s","equal":"Chicago"}}],"mark":{"type":"line","strokeJoin":"round","strokeWidth":2.2}},
{"transform":[{"filter":{"field":"s","equal":"Kansas City"}}],"mark":{"type":"line","strokeJoin":"round","strokeWidth":1.6}},
{"transform":[{"filter":{"field":"s","equal":"New York"}}],"mark":{"type":"line","strokeJoin":"round","strokeWidth":2.2}},
{"transform":[{"filter":{"field":"s","equal":"Philadelphia"}}],"mark":{"type":"line","strokeJoin":"round","strokeWidth":3.6}},
{"transform":[{"filter":{"field":"s","equal":"Richmond"}}],"mark":{"type":"line","strokeJoin":"round","strokeWidth":4}},
{"transform":[{"filter":{"field":"s","equal":"San Francisco"}}],"mark":{"type":"line","strokeJoin":"round","strokeWidth":2.5}}
]
}
